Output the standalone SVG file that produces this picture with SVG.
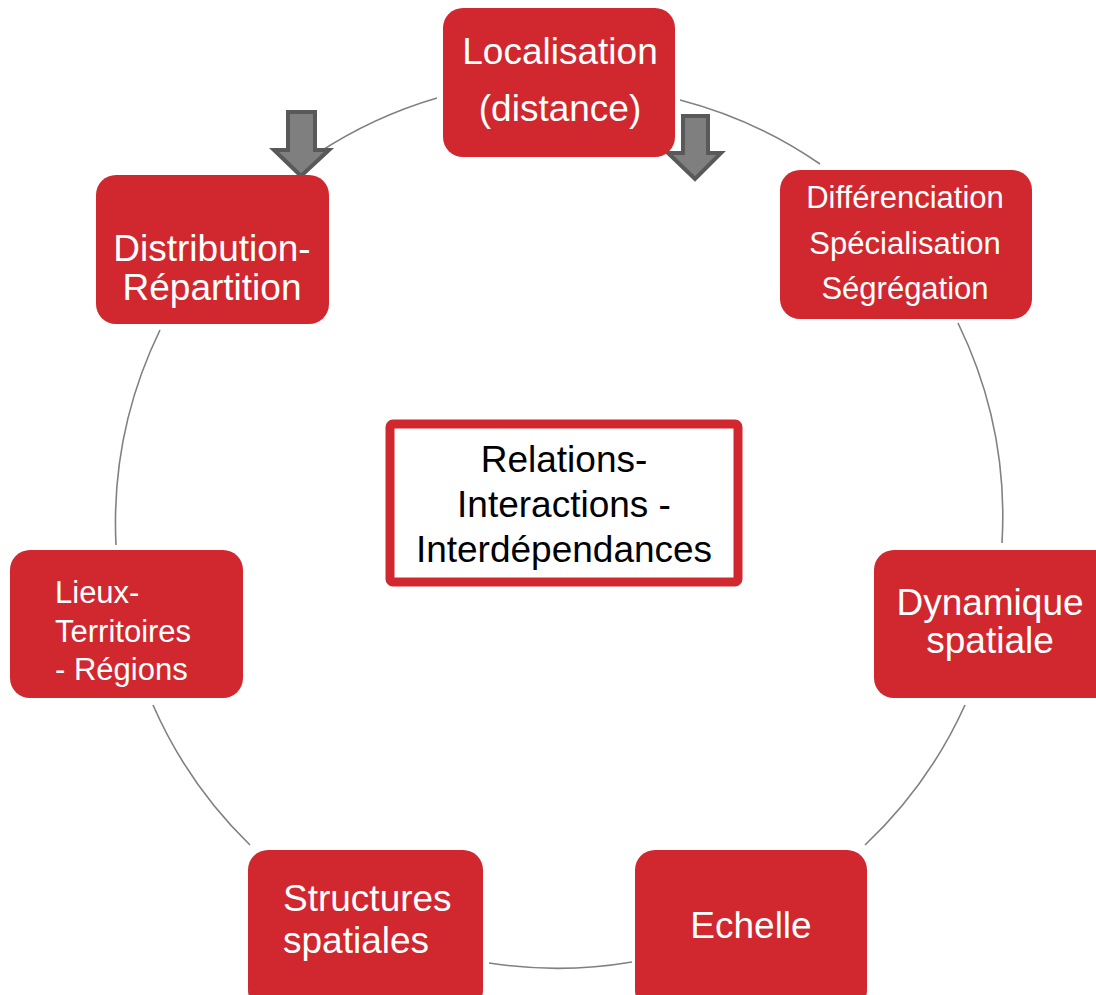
<svg xmlns="http://www.w3.org/2000/svg" width="1096" height="995" viewBox="0 0 1096 995">
<style>
.node{fill:#D1282F}
.t{font-family:"Liberation Sans",Arial,sans-serif;fill:#fff;font-size:37px}
.s{font-size:31px}
.c{text-anchor:middle}
.arc{fill:none;stroke:#808080;stroke-width:1.6}
.arrow{fill:#7f7f7f;stroke:#595959;stroke-width:4;stroke-linejoin:miter}
</style>
<rect width="1096" height="995" fill="#fff"/>
<g id="connectors">
<path class="arc" d="M318,153 A443,443 0 0 1 437,98"/>
<path class="arc" d="M680,100 A443,443 0 0 1 820,164"/>
<path class="arc" d="M958,323 A443,443 0 0 1 1002,543"/>
<path class="arc" d="M965,705 A443,443 0 0 1 865,845"/>
<path class="arc" d="M632,962 A443,443 0 0 1 489,963"/>
<path class="arc" d="M250,845 A443,443 0 0 1 153,705"/>
<path class="arc" d="M116,545 A443,443 0 0 1 160,330"/>
</g>
<g id="arrows">
<polygon class="arrow" points="288,112 315,112 315,150 329,150 301,176 274,150 288,150"/>
<polygon class="arrow" points="683,116 708,116 708,153 721,153 695,179 668,153 683,153"/>
</g>
<g id="node-localisation">
<rect class="node" x="443" y="8" width="232" height="149" rx="20"/>
<text class="t c" x="560" y="64">Localisation</text>
<text class="t c" x="560" y="121">(distance)</text>
</g>
<g id="node-distribution">
<rect class="node" x="96" y="175" width="233" height="149" rx="20"/>
<text class="t c" x="212" y="261">Distribution-</text>
<text class="t c" x="212" y="300">Répartition</text>
</g>
<g id="node-differenciation">
<rect class="node" x="780" y="170" width="252" height="149" rx="20"/>
<text class="t s c" x="905" y="208">Différenciation</text>
<text class="t s c" x="905" y="254">Spécialisation</text>
<text class="t s c" x="905" y="299">Ségrégation</text>
</g>
<g id="node-dynamique">
<rect class="node" x="874" y="550" width="240" height="148" rx="20"/>
<text class="t c" x="990" y="615">Dynamique</text>
<text class="t c" x="990" y="653">spatiale</text>
</g>
<g id="node-echelle">
<rect class="node" x="635" y="850" width="232" height="160" rx="20"/>
<text class="t c" x="751" y="938">Echelle</text>
</g>
<g id="node-structures">
<rect class="node" x="248" y="850" width="235" height="160" rx="20"/>
<text class="t" x="283" y="911">Structures</text>
<text class="t" x="283" y="953">spatiales</text>
</g>
<g id="node-lieux">
<rect class="node" x="10" y="550" width="233" height="148" rx="20"/>
<text class="t s" x="55" y="603">Lieux-</text>
<text class="t s" x="55" y="642">Territoires</text>
<text class="t s" x="55" y="680">- Régions</text>
</g>
<g id="node-relations">
<rect x="390" y="424" width="348" height="158" rx="3" fill="#fff" stroke="#D1282F" stroke-width="9"/>
<text class="t c" x="564" y="472" style="fill:#000">Relations-</text>
<text class="t c" x="564" y="517" style="fill:#000">Interactions -</text>
<text class="t c" x="564" y="562" style="fill:#000">Interdépendances</text>
</g>
</svg>
